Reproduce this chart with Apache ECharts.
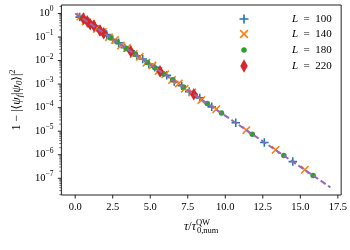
<!DOCTYPE html>
<html><head><meta charset="utf-8">
<script src="https://cdn.jsdelivr.net/npm/echarts@6/dist/echarts.min.js"></script>
<style>html,body{margin:0;padding:0;background:#fff}#c{width:350px;height:250px}</style>
</head><body><div id="c"></div>
<script>
// ---- data ----
const seriesNames = ['L = 100', 'L = 140', 'L = 180', 'L = 220'];
const x100 = [0.3, 0.6, 0.9, 1.3, 1.7, 2.1, 2.5, 2.9, 3.3, 3.7, 4.1, 4.5, 4.9, 5.3, 5.7, 6.1, 6.6, 7.1, 7.6, 8.3, 9.1, 10.7, 12.6, 14.5];
const y100 = [0.70, 0.57, 0.39, 0.29, 0.175, 0.128, 0.079, 0.057, 0.035, 0.026, 0.0158, 0.0117, 0.0071, 0.0052, 0.0032, 0.00235, 0.0013, 0.00086, 0.00048, 0.00026, 0.000108, 2.3e-5, 3.3e-6, 5.1e-7];
const x140 = [0.35, 0.7, 1.05, 1.45, 1.85, 2.25, 2.65, 3.05, 3.45, 3.9, 4.3, 4.75, 5.15, 5.55, 6.0, 6.45, 6.9, 7.3, 7.8, 8.4, 9.4, 11.4, 13.35, 15.3];
const y140 = [0.74, 0.46, 0.37, 0.22, 0.165, 0.098, 0.074, 0.044, 0.034, 0.019, 0.0145, 0.0081, 0.0062, 0.0036, 0.0026, 0.00149, 0.00107, 0.00063, 0.00044, 0.00021, 8.6e-5, 1.1e-5, 1.6e-6, 2.3e-7];
const x180 = [0.45, 0.9, 1.6, 2.0, 2.35, 2.8, 3.4, 4.0, 4.8, 5.3, 5.9, 6.5, 7.2, 8.0, 8.8, 9.75, 11.8, 13.9, 15.85];
const y180 = [0.62, 0.41, 0.20, 0.137, 0.094, 0.061, 0.033, 0.0185, 0.0082, 0.0050, 0.0027, 0.00152, 0.00075, 0.00034, 0.000150, 5.9e-5, 7.5e-6, 9.3e-7, 1.32e-7];
const x220 = [0.55, 0.8, 1.0, 1.25, 1.65, 1.9, 3.7, 5.65, 7.9];
const y220 = [0.60, 0.47, 0.35, 0.30, 0.19, 0.145, 0.025, 0.0035, 0.00037];
const fitX = [0, 17];
const fitY = [1, 4.14e-8];
const xTickValues = [0, 2.5, 5, 7.5, 10, 12.5, 15, 17.5];
const yMajorTicks = [1e-7, 1e-6, 1e-5, 1e-4, 1e-3, 1e-2, 1e-1, 1];
const yMinorMantissas = [2, 3, 4, 5, 6, 7, 8, 9];
const yMinorDecades = [-8, -7, -6, -5, -4, -3, -2, -1, 0];

// ---- layout/style ----
const X_MIN = -0.92, X_MAX = 17.72;
const Y_MIN = Math.pow(10, -7.71), Y_MAX = Math.pow(10, 0.36);
const SERIF = "'Liberation Serif', 'DejaVu Serif', serif";
const FS = 10.5, FSS = 7.5, FSL = 11, FSN = 12, FSNS = 8.5;
const COLORS = ['#1f77b4', '#ff7f0e', '#2ca02c', '#d62728'];
const PLUS = 'path://M4.1,0H5.9V4.1H10V5.9H5.9V10H4.1V5.9H0V4.1H4.1Z';
const CROSS = 'path://M0,1.3L1.3,0L5,3.7L8.7,0L10,1.3L6.3,5L10,8.7L8.7,10L5,6.3L1.3,10L0,8.7L3.7,5Z';
const AXC = '#222';

const yMinorTicks = [];
yMinorDecades.forEach(d => yMinorMantissas.forEach(m => {
  const v = m * Math.pow(10, d);
  if (v >= Y_MIN && v <= Y_MAX) yMinorTicks.push(v);
}));

const zip = (a, b) => a.map((v, i) => [v, b[i]]);
const T = (extra) => Object.assign({fontFamily: SERIF, fontSize: FS, color: '#000', align: 'left'}, extra || {});

function yTicks(len, lw) {
  return function (params, api) {
    const p = api.coord([X_MIN, api.value(1)]);
    return {type: 'line', shape: {x1: p[0] - len, y1: p[1], x2: p[0], y2: p[1]}, style: {stroke: AXC, lineWidth: lw}};
  };
}
function xTicks(params, api) {
  const p = api.coord([api.value(0), Y_MIN]);
  return {type: 'line', shape: {x1: p[0], y1: p[1], x2: p[0], y2: p[1] + 3.5}, style: {stroke: AXC, lineWidth: 1}};
}

const legendIcons = [PLUS, CROSS, 'circle', 'diamond'];
const legendSizes = [[9, 9], [9, 9], [5.5, 5.5], [7.5, 13.5]];
const legendCY = [19, 34, 50, 66];
const ICON_CX = 244, TEXT_X = 292;
const legends = seriesNames.map((n, i) => {
  const w = legendSizes[i][0], h = legendSizes[i][1];
  const left = ICON_CX - w / 2;
  const itemH = Math.max(h, 12);
  return {
    data: [{name: n, icon: legendIcons[i]}],
    left: left, top: legendCY[i] - itemH / 2,
    itemWidth: w, itemHeight: h, padding: 0, selectedMode: false,
    formatter: name => '{sp|}{i|L}{n|  =  ' + name.split('= ')[1] + '}',
    textStyle: {fontFamily: SERIF, fontSize: FSL, color: '#000', lineHeight: 12,
      rich: {sp: {width: TEXT_X - (left + w + 5), align: 'left'}, i: T({fontSize: FSL, fontStyle: 'italic'}), n: T({fontSize: FSL})}}
  };
});

const chart = echarts.init(document.getElementById('c'), null, {renderer: 'canvas'});
chart.setOption({
  animation: false,
  backgroundColor: '#fff',
  grid: {left: 58, right: 8.5, top: 5, bottom: 55, show: true, borderColor: AXC, borderWidth: 1, containLabel: false},
  legend: legends,
  xAxis: {
    type: 'value', min: X_MIN, max: X_MAX, minInterval: 2.5, maxInterval: 2.5,
    splitLine: {show: false}, axisLine: {show: false}, axisTick: {show: false},
    axisLabel: {margin: 7, fontFamily: SERIF, fontSize: FS, color: '#000',
      formatter: v => (Math.abs(v / 2.5 - Math.round(v / 2.5)) < 1e-6) ? v.toFixed(1) : ''},
    name: '{i|τ}{n|/}{i|τ}{sup|QW}{sb|0,num}',
    nameLocation: 'middle', nameGap: 20,
    nameTextStyle: {rich: {
      i: T({fontSize: FSN, fontStyle: 'italic'}), n: T({fontSize: FSN}),
      sup: T({fontSize: FSNS, width: 1, padding: [0, 0, 8, 0]}),
      sb: T({fontSize: FSNS, padding: [8, 0, 0, 0]})
    }}
  },
  yAxis: {
    type: 'log', logBase: 10, min: Y_MIN, max: Y_MAX,
    splitLine: {show: false}, axisLine: {show: false}, axisTick: {show: false}, minorTick: {show: false},
    axisLabel: {margin: 8, formatter: v => {
        const n = Math.log10(v), r = Math.round(n);
        if (Math.abs(n - r) > 1e-6) return '';
        return '{b|10}{s|' + (r < 0 ? '−' + (-r) : String(r)) + '}';
      },
      rich: {b: {fontFamily: SERIF, fontSize: FS, color: '#000'},
             s: {fontFamily: SERIF, fontSize: FSS, color: '#000', padding: [0, 0, 8, 0]}}},
    name: '{n|1 − |⟨}{i|ψ}{sb|f}{n||}{i|ψ}{sb|0}{n|⟩|}{sp|2}',
    nameLocation: 'middle', nameGap: 36,
    nameTextStyle: {rich: {
      i: T({fontSize: FSN, fontStyle: 'italic', align: null}), n: T({fontSize: FSN, align: null}),
      sp: T({fontSize: FSNS, align: null, padding: [0, 0, 8, 0]}),
      sb: T({fontSize: FSNS, fontStyle: 'italic', align: null, padding: [6, 0, 0, 0]})
    }}
  },
  series: [
    {name: seriesNames[0], type: 'scatter', data: zip(x100, y100), symbol: PLUS, symbolSize: 8.5, itemStyle: {color: COLORS[0], opacity: 1}, z: 2},
    {name: seriesNames[1], type: 'scatter', data: zip(x140, y140), symbol: CROSS, symbolSize: 8.5, itemStyle: {color: COLORS[1], opacity: 1}, z: 3},
    {name: seriesNames[2], type: 'scatter', data: zip(x180, y180), symbol: 'circle', symbolSize: 5.5, itemStyle: {color: COLORS[2], opacity: 1}, z: 4},
    {name: seriesNames[3], type: 'scatter', data: zip(x220, y220), symbol: 'diamond', symbolSize: [7.5, 12.5], itemStyle: {color: COLORS[3], opacity: 1}, z: 5},
    {name: 'fit', type: 'line', data: zip(fitX, fitY), showSymbol: false, symbol: 'none',
      lineStyle: {color: '#9467bd', width: 2, type: [6, 3]}, z: 6, silent: true},
    {type: 'custom', data: yMajorTicks.map(v => [X_MIN, v]), renderItem: yTicks(3.5, 1), silent: true, z: 10},
    {type: 'custom', data: yMinorTicks.map(v => [X_MIN, v]), renderItem: yTicks(2, 0.7), silent: true, z: 10},
    {type: 'custom', data: xTickValues.map(v => [v, Y_MIN]), renderItem: xTicks, silent: true, z: 10}
  ]
});
</script></body></html>
